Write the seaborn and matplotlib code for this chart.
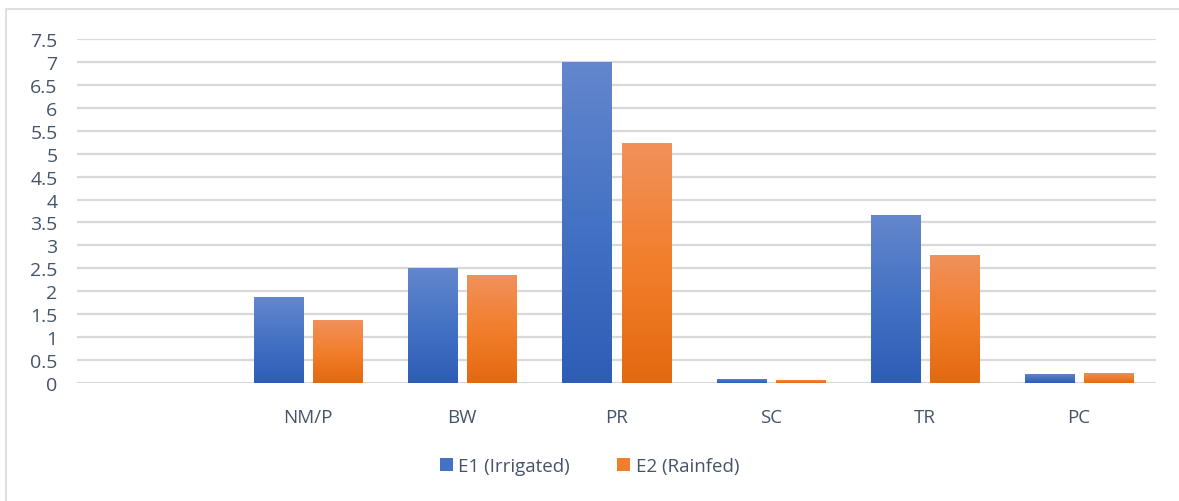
import numpy as np
import pandas as pd
import seaborn as sns
import matplotlib.pyplot as plt
from matplotlib.patches import Rectangle, Patch
from matplotlib.colors import LinearSegmentedColormap

# Categories (the leading blank slot is an empty category on the axis)
categories = ["", "NM/P", "BW", "PR", "SC", "TR", "PC"]
measured = ["NM/P", "BW", "PR", "SC", "TR", "PC"]
e1_irrigated = [1.87, 2.51, 7.0, 0.09, 3.66, 0.20]
e2_rainfed = [1.37, 2.35, 5.23, 0.07, 2.79, 0.22]
series_names = ["E1 (Irrigated)", "E2 (Rainfed)"]
y_ticks = [0, 0.5, 1, 1.5, 2, 2.5, 3, 3.5, 4, 4.5, 5, 5.5, 6, 6.5, 7, 7.5]

df = pd.DataFrame({
    "category": measured * 2,
    "value": e1_irrigated + e2_rainfed,
    "series": [series_names[0]] * len(measured) + [series_names[1]] * len(measured),
})

sns.set_theme(style="white")
plt.rcParams["font.family"] = ["Open Sans", "DejaVu Sans"]
text_color = "#44546A"
grid_color = "#D9D9D9"

# gradient stops (bottom, middle, top) for each series
grads = {
    series_names[0]: ("#2E5DB6", "#4472C4", "#6487CD"),
    series_names[1]: ("#E3690F", "#F27E2C", "#F0915B"),
}
palette = {s: c[1] for s, c in grads.items()}

fig = plt.figure(figsize=(11.79, 5.02), dpi=100)
ax = fig.add_axes([77 / 1179, 1 - 384 / 502, (1156 - 77) / 1179, (384 - 40) / 502])

sns.barplot(data=df, x="category", y="value", hue="series", order=categories,
            hue_order=series_names, palette=palette, width=0.766, gap=0.17,
            errorbar=None, legend=False, ax=ax, saturation=1)

# Replace the flat fills with vertical gradients clipped to each bar
for container, name in zip(ax.containers, series_names):
    cmap = LinearSegmentedColormap.from_list(name, list(grads[name]))
    for bar in container:
        x0 = bar.get_x()
        w, h = bar.get_width(), bar.get_height()
        if h <= 0:
            continue
        bar.set_facecolor("none")
        bar.set_edgecolor("none")
        grad = np.linspace(0, 1, 256).reshape(-1, 1)
        im = ax.imshow(grad, cmap=cmap, aspect="auto", origin="lower",
                       extent=[x0, x0 + w, 0, h], zorder=2,
                       vmin=0, vmax=1, interpolation="bilinear")
        im.set_clip_path(bar)

ax.set_xlim(-0.5, len(categories) - 0.5)
ax.set_ylim(0, 7.5)
ax.set_yticks(y_ticks)
ax.set_yticklabels([f"{t:g}" for t in y_ticks])
ax.yaxis.grid(True, color=grid_color, linewidth=1.6)
ax.set_axisbelow(True)
for s in ax.spines.values():
    s.set_visible(False)
ax.set_xlabel("")
ax.set_ylabel("")
ax.tick_params(axis="y", labelsize=14, colors=text_color, length=0, pad=14)
ax.tick_params(axis="x", labelsize=13.5, colors=text_color, length=0, pad=18)
for lbl in ax.get_yticklabels():
    lbl.set_horizontalalignment("right")

handles = [Patch(facecolor=grads[n][1], edgecolor="none") for n in series_names]
fig.legend(handles, series_names, loc="center", bbox_to_anchor=(0.5, 1 - 467 / 502),
           ncol=2, frameon=False, fontsize=13.5, labelcolor=text_color,
           handlelength=0.7, handleheight=0.7, handletextpad=0.3, columnspacing=2.5)

# Outer chart frame
fig.patches.append(Rectangle((6 / 1179, -0.1), 1.2, 1 - 10 / 502 + 0.1,
                             transform=fig.transFigure, fill=False,
                             edgecolor=grid_color, linewidth=1.2))

fig.savefig("out.png", dpi=100)
